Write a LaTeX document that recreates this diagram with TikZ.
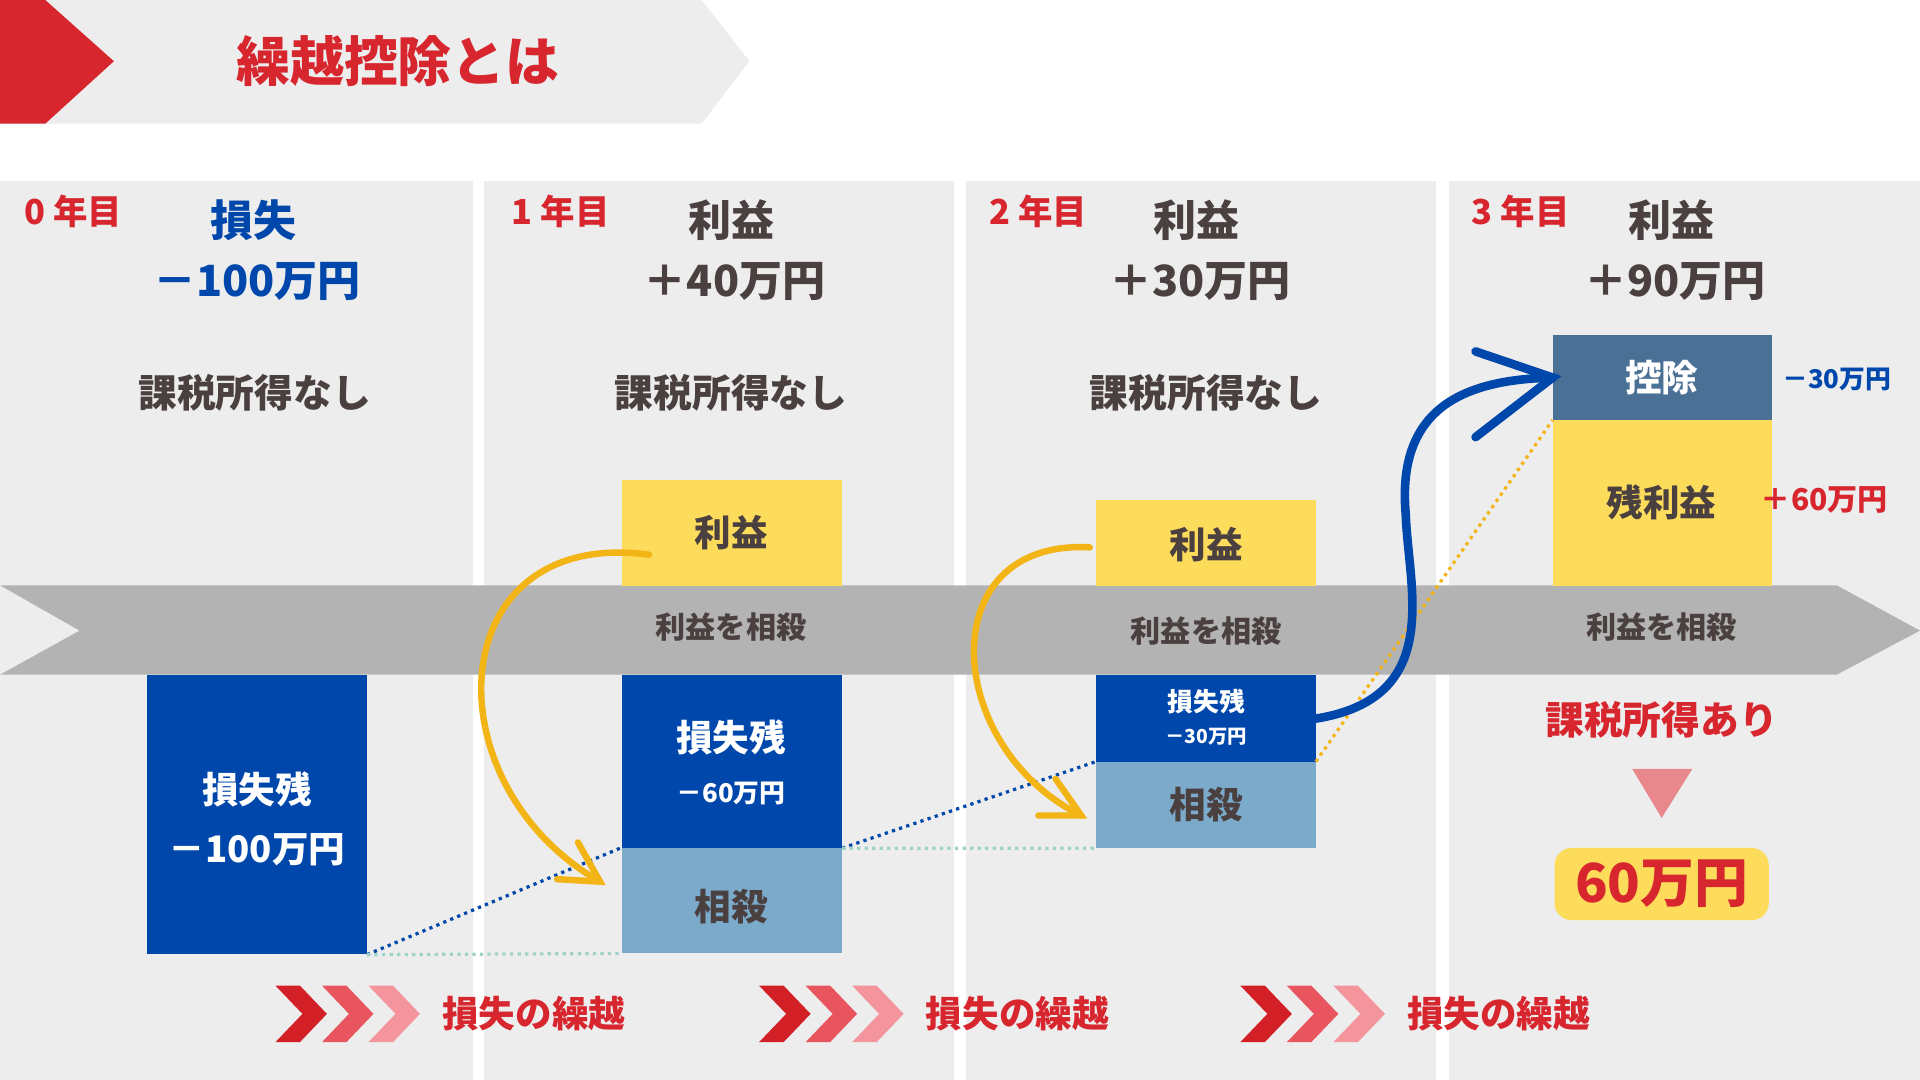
\documentclass[tikz,border=0pt]{standalone}
\usepackage{fontspec}
\setmainfont{Noto Sans CJK JP}
\usetikzlibrary{positioning}
\definecolor{bandgray}{HTML}{EDEDED}
\definecolor{arrowgray}{HTML}{B3B3B3}
\definecolor{redtxt}{HTML}{D7262E}
\definecolor{bluebox}{HTML}{0047AB}
\definecolor{lightbox}{HTML}{7BAACB}
\definecolor{steelbox}{HTML}{4A7095}
\definecolor{yellowbox}{HTML}{FDDC5C}
\definecolor{darktxt}{HTML}{4A4040}
\definecolor{orangearr}{HTML}{F3B416}
\definecolor{tealdot}{HTML}{9FD3C7}
\tikzset{
  every node/.style={font=\bfseries},
  box/.style={minimum width=3.58cm,inner sep=0pt,anchor=north west},
  yearlbl/.style={text=redtxt,font=\bfseries\fontsize{16}{18}\selectfont},
  headlbl/.style={text=darktxt,font=\bfseries\fontsize{20}{24}\selectfont},
  notax/.style={text=darktxt,font=\bfseries\fontsize{18}{22}\selectfont},
  boxtxt/.style={font=\bfseries\fontsize{17}{20}\selectfont},
  smalltxt/.style={font=\bfseries\fontsize{12}{14}\selectfont},
  chev/.style={draw=none},
}
\begin{document}
\begin{tikzpicture}[x=0.02cm,y=-0.02cm]
\useasboundingbox (0,0) rectangle (1568,882);
% header
\fill[bandgray] (0,0) -- (573,0) -- (612,50) -- (573,101) -- (0,101) -- cycle;
\fill[redtxt] (0,0) -- (37,0) -- (93,50) -- (37,101) -- (0,101) -- cycle;
\node[text=redtxt,font=\bfseries\fontsize{25}{30}\selectfont] (title) at (325,50) {繰越控除とは};
% columns
\foreach \xa/\xb in {0/386,395/779,789/1173,1183/1568}
  \fill[bandgray] (\xa,148) rectangle (\xb,882);
% time arrow
\fill[arrowgray] (0,478) -- (1500,478) -- (1568,515) -- (1500,551) -- (0,551) -- (65,515) -- cycle;
% year headers
\node[yearlbl] (y0) at (60,173) {0 年目};
\node[yearlbl] (y1) at (458,173) {1 年目};
\node[yearlbl] (y2) at (848,173) {2 年目};
\node[yearlbl] (y3) at (1242,173) {3 年目};
\node[headlbl,text=bluebox] (h0) at (207,180) {損失};
\node[headlbl,text=bluebox] (v0) at (210,230) {－100万円};
\node[headlbl] (h1) at (597,180) {利益};
\node[headlbl] (v1) at (600,230) {＋40万円};
\node[headlbl] (h2) at (977,180) {利益};
\node[headlbl] (v2) at (980,230) {＋30万円};
\node[headlbl] (h3) at (1365,180) {利益};
\node[headlbl] (v3) at (1368,230) {＋90万円};
\foreach \x/\n in {208/0,597/1,985/2}
  \node[notax] (nt\n) at (\x,321) {課税所得なし};
% year 0
\node[box,fill=bluebox,minimum width=3.58cm,minimum height=4.56cm] (loss0) at (120,551) {};
\node[boxtxt,text=white] (l0a) at (210,645) {損失残};
\node[boxtxt,text=white] (l0b) at (210,694) {－100万円};
% year 1
\node[box,fill=yellowbox,minimum height=1.72cm] (prof1) at (508,392) {};
\node[boxtxt,text=darktxt] at (597,435) {利益};
\node[text=darktxt,font=\bfseries\fontsize{14}{16}\selectfont] (off1) at (597,512) {利益を相殺};
\node[box,fill=bluebox,minimum height=2.82cm] (loss1) at (508,551) {};
\node[boxtxt,text=white] at (597,602) {損失残};
\node[smalltxt,text=white] at (597,648) {－60万円};
\node[box,fill=lightbox,minimum height=1.72cm] (set1) at (508,692) {};
\node[boxtxt,text=darktxt] at (597,740) {相殺};
% year 2
\node[box,fill=yellowbox,minimum height=1.4cm] (prof2) at (895,408) {};
\node[boxtxt,text=darktxt] at (985,445) {利益};
\node[text=darktxt,font=\bfseries\fontsize{14}{16}\selectfont] (off2) at (985,515) {利益を相殺};
\node[box,fill=bluebox,minimum height=1.42cm] (loss2) at (895,551) {};
\node[smalltxt,text=white] at (985,573) {損失残};
\node[font=\bfseries\fontsize{9}{11}\selectfont,text=white] at (985,602) {－30万円};
\node[box,fill=lightbox,minimum height=1.4cm] (set2) at (895,622) {};
\node[boxtxt,text=darktxt] at (985,657) {相殺};
% year 3
\node[box,fill=steelbox,minimum height=1.4cm] (ded3) at (1268,273) {};
\node[boxtxt,text=white] at (1357,308) {控除};
\node[box,fill=yellowbox,minimum height=2.7cm] (rest3) at (1268,343) {};
\node[boxtxt,text=darktxt] at (1357,410) {残利益};
\node[smalltxt,text=bluebox] (m30) at (1500,310) {－30万円};
\node[font=\bfseries\fontsize{14}{16}\selectfont,text=redtxt] (p60) at (1490,408) {＋60万円};
\node[text=darktxt,font=\bfseries\fontsize{14}{16}\selectfont] (off3) at (1357,512) {利益を相殺};
\node[text=redtxt,font=\bfseries\fontsize{18}{22}\selectfont] (tax3) at (1357,588) {課税所得あり};
\fill[redtxt!55] (1333,628) -- (1382,628) -- (1357,668) -- cycle;
\node[fill=yellowbox,rounded corners=8pt,minimum width=3.5cm,minimum height=1.18cm,
  text=redtxt,font=\bfseries\fontsize{25}{30}\selectfont] (res3) at (1357,722) {60万円};
% dotted guides
\draw[bluebox,dotted,line width=1.5pt] (loss0.south east) -- (set1.north west);
\draw[bluebox,dotted,line width=1.5pt] (loss1.south east) -- (set2.north west);
\draw[tealdot,dotted,line width=1.5pt] (loss0.south east) -- (set1.south west);
\draw[tealdot,dotted,line width=1.5pt] (loss1.south east) -- (set2.south west);
\draw[orangearr,dotted,line width=1.5pt] (set2.north east) -- (rest3.north west);
% carry arrows
\draw[orangearr,line width=3pt,line cap=round] (530,453) .. controls (360,430) and (350,640) .. (490,720);
\draw[orangearr,line width=3pt,line cap=round] (472,688) -- (490,720) -- (455,718);
\draw[orangearr,line width=3pt,line cap=round] (890,447) .. controls (760,440) and (770,610) .. (883,666);
\draw[orangearr,line width=3pt,line cap=round] (862,636) -- (883,666) -- (848,666);
\draw[bluebox,line width=4pt,line cap=round] (loss2.east) .. controls (1180,570) and (1150,480) .. (1148,420)
  .. controls (1140,330) and (1200,310) .. (ded3.west);
\draw[bluebox,line width=4pt,line cap=round] (1205,287) -- (ded3.west) -- (1205,357);
% carry-over chevrons
\foreach \x in {225,620,1013}{
  \foreach \d/\c in {0/D32027,38/E9555E,76/F4949C}{
    \definecolor{chc}{HTML}{\c}
    \fill[chc] (\x+\d,805) -- (\x+\d+20,805) -- (\x+\d+42,828) -- (\x+\d+20,851) -- (\x+\d,851) -- (\x+\d+22,828) -- cycle;
  }
  \node[text=redtxt,font=\bfseries\fontsize{17}{20}\selectfont,anchor=west] at (\x+130,828) {損失の繰越};
}
\end{tikzpicture}
\end{document}
